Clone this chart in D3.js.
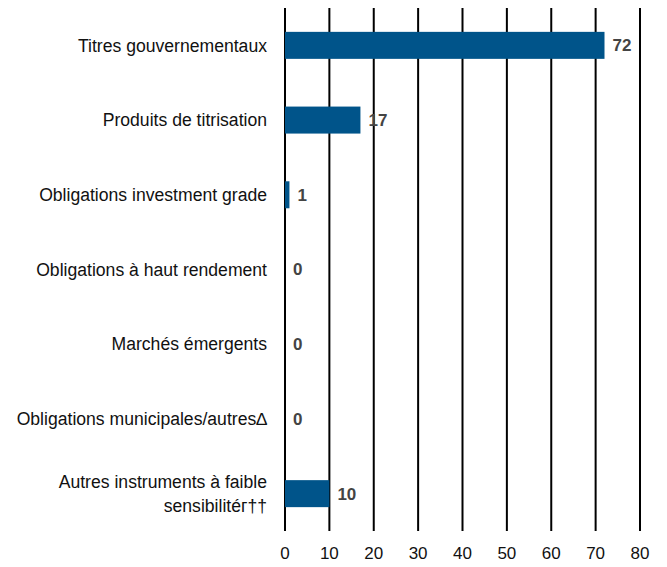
<!DOCTYPE html>
<html>
<head>
<meta charset="utf-8">
<script src="https://cdn.jsdelivr.net/npm/d3@7"></script>
<style>
  body { margin: 0; background: #fff; }
  text { font-family: "Liberation Sans Narrow", "Arial Narrow", "Liberation Sans", Arial, sans-serif; }
</style>
</head>
<body>
<div id="chart"></div>
<script>
const categories = [
  ['Titres gouvernementaux'],
  ['Produits de titrisation'],
  ['Obligations investment grade'],
  ['Obligations à haut rendement'],
  ['Marchés émergents'],
  ['Obligations municipales/autres\u2206'],
  ['Autres instruments à faible', 'sensibilité\u0433\u2020\u2020']
];
const values = [72, 17, 1, 0, 0, 0, 10];
const tickValues = [0, 10, 20, 30, 40, 50, 60, 70, 80];

const width = 667, height = 567;
const svg = d3.select('#chart').append('svg')
  .attr('width', width)
  .attr('height', height);

const x = d3.scaleLinear().domain([0, 80]).range([285, 640]);
const y = d3.scaleBand().domain(d3.range(categories.length)).range([8, 531]);
const barH = 27;

// vertical grid lines
svg.append('g').selectAll('line')
  .data(tickValues)
  .enter().append('line')
  .attr('x1', d => x(d)).attr('x2', d => x(d))
  .attr('y1', 8).attr('y2', 531)
  .attr('stroke', '#000')
  .attr('stroke-width', 2);

// bars
svg.append('g').selectAll('rect')
  .data(values)
  .enter().append('rect')
  .attr('x', x(0))
  .attr('y', (d, i) => y(i) + y.bandwidth() / 2 - barH / 2)
  .attr('width', d => x(d) - x(0))
  .attr('height', barH)
  .attr('fill', '#00548a');

// value labels
svg.append('g').selectAll('text')
  .data(values)
  .enter().append('text')
  .attr('x', d => x(d) + 8)
  .attr('y', (d, i) => y(i) + y.bandwidth() / 2)
  .attr('dy', '0.35em')
  .attr('font-size', 17)
  .attr('font-weight', 'bold')
  .attr('fill', '#444')
  .text(d => d);

// category labels
const lab = svg.append('g').selectAll('text')
  .data(categories)
  .enter().append('text')
  .attr('x', 267)
  .attr('y', (d, i) => y(i) + y.bandwidth() / 2 - (d.length - 1) * 12)
  .attr('text-anchor', 'end')
  .attr('font-size', 17.6)
  .attr('fill', '#111');
lab.selectAll('tspan')
  .data(d => d)
  .enter().append('tspan')
  .attr('x', 267)
  .attr('dy', (d, i) => i === 0 ? '0.35em' : 24)
  .text(d => d);

// x axis tick labels
svg.append('g').selectAll('text')
  .data(tickValues)
  .enter().append('text')
  .attr('x', d => x(d))
  .attr('y', 553)
  .attr('dy', '0.35em')
  .attr('text-anchor', 'middle')
  .attr('font-size', 17)
  .attr('fill', '#111')
  .text(d => d);
</script>
</body>
</html>
